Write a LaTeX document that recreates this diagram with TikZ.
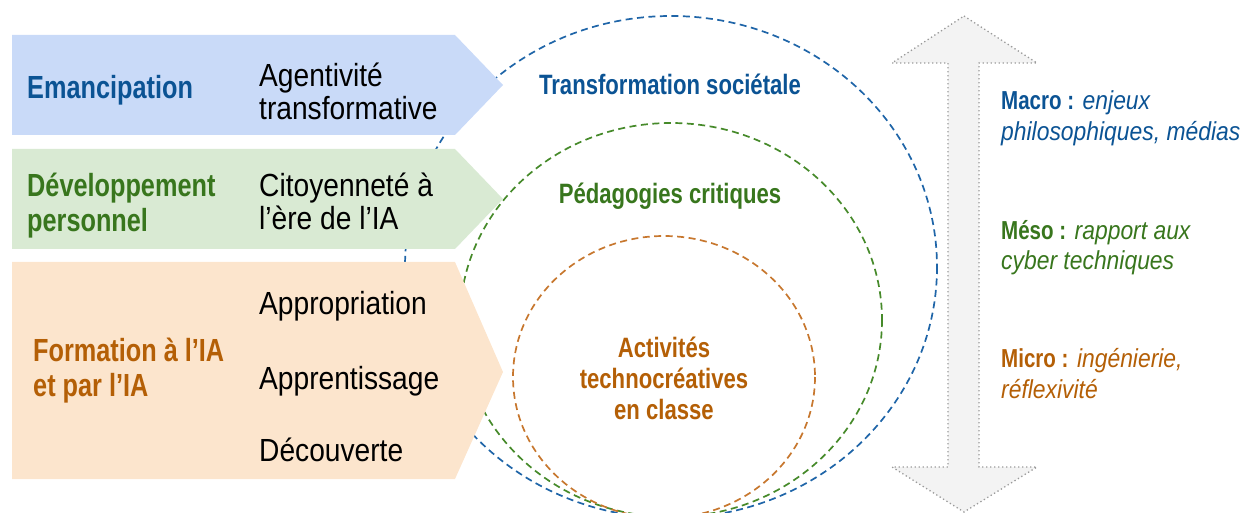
\documentclass[tikz,border=0pt]{standalone}
\usepackage{fontspec}
\setmainfont{Liberation Sans}
\newfontfamily\fR[FakeStretch=0.88]{Liberation Sans}
\newfontfamily\fB[FakeStretch=0.79]{Liberation Sans}
\definecolor{blueT}{HTML}{0B5394}
\definecolor{greenT}{HTML}{38761D}
\definecolor{orangeT}{HTML}{B45F06}
\definecolor{blueF}{HTML}{C9DAF8}
\definecolor{greenF}{HTML}{D9EAD3}
\definecolor{orangeF}{HTML}{FCE5CD}
\definecolor{blueL}{HTML}{1F65A8}
\definecolor{greenL}{HTML}{468A2A}
\definecolor{orangeL}{HTML}{C7772E}
\definecolor{grayF}{HTML}{F3F3F3}
\definecolor{grayL}{HTML}{9A9A9A}
\tikzset{
  ring/.style={line width=1.7pt, dash pattern=on 7pt off 4.5pt},
  lefthead/.style={font=\fB\bfseries\fontsize{32}{35}\selectfont, align=left, anchor=base west, inner sep=0pt},
  itemtext/.style={font=\fR\fontsize{32}{33}\selectfont, align=left, anchor=base west, inner sep=0pt, text=black},
  ringlabel/.style={font=\fB\bfseries\fontsize{28}{31}\selectfont, align=center, anchor=base, inner sep=0pt},
  scaletext/.style={font=\fR\fontsize{26}{31}\selectfont, align=left, anchor=base west, inner sep=0pt},
}
\begin{document}
\begin{tikzpicture}[x=1pt,y=-1pt]
\useasboundingbox (0,0) rectangle (1243,513);
\clip (0,0) rectangle (1243,513);
% nested rings
\draw[ring, blueL] (671,267) ellipse [x radius=266, y radius=251];
\draw[ring, greenL] (671,320) ellipse [x radius=211, y radius=197];
\draw[ring, orangeL] (664,377) ellipse [x radius=151, y radius=141];
% chevrons
\fill[blueF] (12,35) -- (455,35) -- (503,85) -- (455,135) -- (12,135) -- cycle;
\fill[greenF] (12,149) -- (455,149) -- (503,199) -- (455,249) -- (12,249) -- cycle;
\fill[orangeF] (12,262) -- (455,262) -- (503,372) -- (455,479) -- (12,479) -- cycle;
% double arrow
\draw[fill=grayF, draw=grayL, line width=1.3pt, dash pattern=on 1.3pt off 2.7pt]
  (964,16) -- (1037,63) -- (979,63) -- (979,467) -- (1037,467) -- (964,512)
  -- (892,467) -- (948,467) -- (948,63) -- (892,63) -- cycle;
% left labels
\node[lefthead, text=blueT] (emanc) at (27,99) {Emancipation};
\node[lefthead, text=greenT] (devp) at (27,232) {Développement\\personnel};
\node[lefthead, text=orangeT] (form) at (33,396) {Formation à l’IA\\et par l’IA};
% items
\node[itemtext] (agent) at (259,120) {Agentivité\\transformative};
\node[itemtext] (citoy) at (259,230) {Citoyenneté à\\l’ère de l’IA};
\node[itemtext] (approp) at (259,315) {Appropriation};
\node[itemtext] (apprent) at (259,389) {Apprentissage};
\node[itemtext] (decouv) at (259,461) {Découverte};
% ring labels
\node[ringlabel, text=blueT] (transf) at (670,95) {Transformation sociétale};
\node[ringlabel, text=greenT] (pedag) at (670,204) {Pédagogies critiques};
\node[ringlabel, text=orangeT] (activ) at (664,419) {Activités\\technocréatives\\en classe};
% scale labels
\node[scaletext, text=blueT] (macro) at (1001,141) {{\fB\bfseries Macro :} {\itshape enjeux}\\{\itshape philosophiques, médias}};
\node[scaletext, text=greenT] (meso) at (1001,270) {{\fB\bfseries Méso :} {\itshape rapport aux}\\{\itshape cyber techniques}};
\node[scaletext, text=orangeT] (micro) at (1001,398) {{\fB\bfseries Micro :} {\itshape ingénierie,}\\{\itshape réflexivité}};
\end{tikzpicture}
\end{document}
